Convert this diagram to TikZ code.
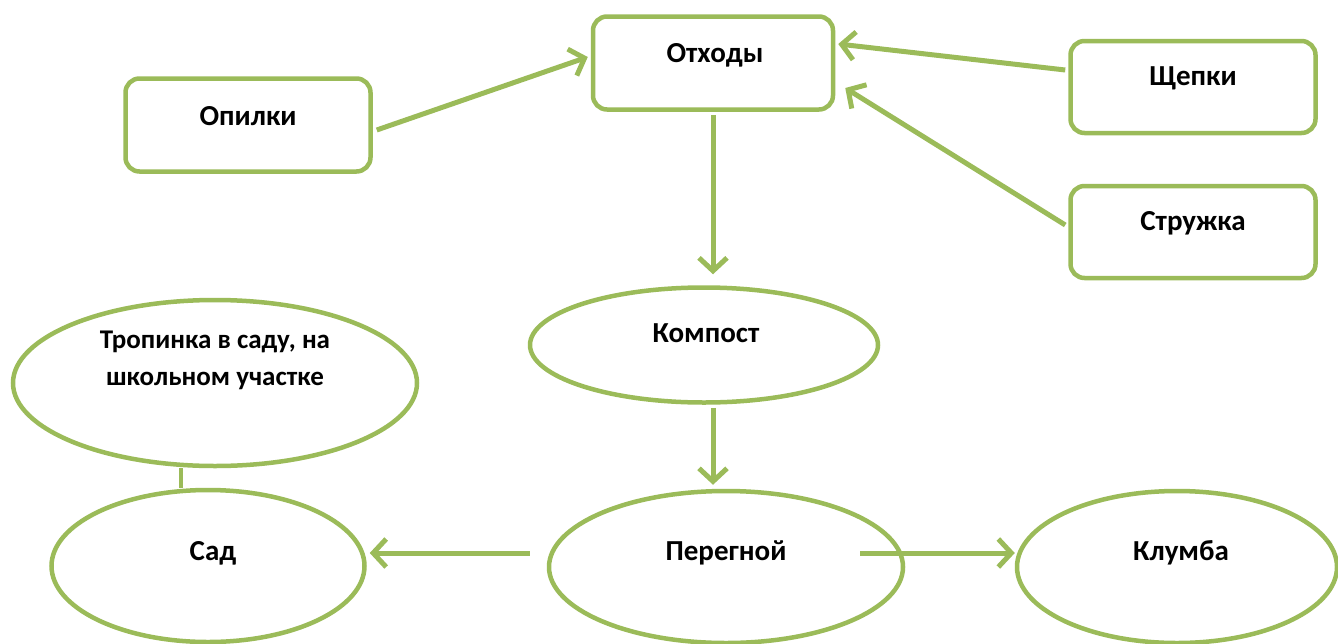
\documentclass[tikz,border=0pt]{standalone}
\usepackage{fontspec}
\setmainfont{Carlito}
\usetikzlibrary{arrows.meta,shapes.geometric,calc}
\definecolor{og}{HTML}{9BBB59}
\tikzset{
  box/.style={draw=og,line width=4.5pt,rounded corners=14pt,fill=white,inner sep=0pt},
  oval/.style={draw=og,line width=4.5pt,ellipse,fill=white,inner sep=0pt},
  lbl/.style={font=\bfseries\fontsize{29}{36}\selectfont,align=center},
  lbls/.style={font=\bfseries\fontsize{27}{37}\selectfont,align=center},
  conn/.style={draw=og,line width=5pt,-{Straight Barb[length=13pt,width=28pt,line width=5pt]}},
  plain/.style={draw=og,line width=4.5pt}
}
\begin{document}
\begin{tikzpicture}[x=1pt,y=-1pt]
\useasboundingbox (0,0) rectangle (1338,643);
% boxes
\node[box,minimum width=240pt,minimum height=93pt] (otx) at (713,63) {};
\node[lbl] at (715,55) {Отходы};
\node[box,minimum width=245pt,minimum height=93pt] (opi) at (248,125) {};
\node[lbl] at (248,116) {Опилки};
\node[box,minimum width=245pt,minimum height=92pt] (shch) at (1193,87) {};
\node[lbl] at (1193,78) {Щепки};
\node[box,minimum width=245pt,minimum height=92pt] (str) at (1193,232) {};
\node[lbl] at (1193,223) {Стружка};
% ellipses
\node[oval,minimum width=348pt,minimum height=115pt] (komp) at (704,345) {};
\node[lbl] at (706,333) {Компост};
\node[oval,minimum width=404pt,minimum height=166pt] (trop) at (215,383) {};
\node[lbls] at (215,360) {Тропинка в саду, на\\школьном участке};
\node[oval,minimum width=313pt,minimum height=152pt] (sad) at (208,566) {};
\node[lbl] at (213,553) {Сад};
\node[oval,minimum width=354pt,minimum height=152pt] (per) at (726,567) {};
\node[lbl] at (726,553) {Перегной};
\node[oval,minimum width=320pt,minimum height=152pt] (klu) at (1177,567) {};
\node[lbl] at (1181,553) {Клумба};
% connectors
\draw[conn] ([xshift=4pt,yshift=-5pt]opi.east) -- ([xshift=-3pt,yshift=6pt]otx.west);
\draw[conn] ([xshift=-3pt,yshift=17pt]shch.west) -- ([xshift=3pt,yshift=19pt]otx.east);
\draw[conn] ([xshift=-3pt,yshift=7pt]str.west) -- ([xshift=10pt,yshift=-25pt]otx.east);
\draw[conn] ([yshift=-3pt]otx.south) -- ([xshift=9pt,yshift=11pt]komp.north);
\draw[conn] ([xshift=9pt,yshift=-3pt]komp.south) -- ([xshift=-13pt,yshift=4pt]per.north);
\draw[conn] ([xshift=-17pt,yshift=14pt]per.west) -- ([xshift=3pt,yshift=13pt]sad.east);
\draw[conn] ([xshift=-45pt,yshift=14pt]per.east) -- ([xshift=0pt,yshift=14pt]klu.west);
\draw[plain] ([xshift=-34pt]trop.south) -- ([xshift=-27pt]sad.north);
\end{tikzpicture}
\end{document}
